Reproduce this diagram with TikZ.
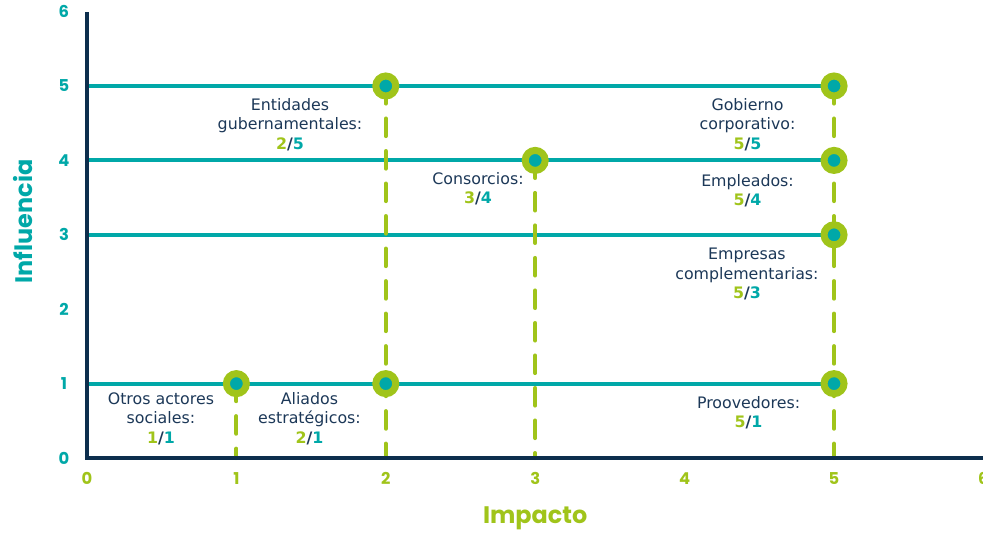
\documentclass[tikz,border=0pt]{standalone}
\usepackage{fontspec}
\setmainfont{DejaVu Sans}
\newfontfamily\ejefont{Poppins}
\usepackage{tikz}
\definecolor{turquesa}{RGB}{0,168,168}
\definecolor{verde}{RGB}{160,196,26}
\definecolor{marino}{RGB}{13,46,77}
\definecolor{texto}{RGB}{28,56,88}
\tikzset{
  >=latex,
}
\tikzstyle{eje}=[line width=2.6pt,marino]
\tikzstyle{nivel}=[line width=2.3pt,turquesa]
\tikzstyle{guia}=[line width=2.3pt,verde,line cap=round,dash pattern=on 10pt off 8.5pt]
\tikzstyle{punto}=[circle,fill=turquesa,draw=verde,line width=0.14cm,minimum size=0.4cm,inner sep=0pt]
\tikzstyle{etiqueta}=[anchor=north,align=center,text=texto,inner sep=0pt,font=\fontsize{9}{11.1}\selectfont]
\tikzstyle{marcay}=[turquesa,font=\ejefont\bfseries\fontsize{9.3}{11}\selectfont]
\tikzstyle{marcax}=[verde,font=\ejefont\bfseries\fontsize{9.3}{11}\selectfont]
\tikzstyle{titulo}=[font=\ejefont\bfseries\fontsize{13.6}{16}\selectfont]
\newcommand{\valor}[2]{\textbf{\textcolor{verde}{#1}/\textcolor{turquesa}{#2}}}

\begin{document}
\begin{tikzpicture}[x=2.988cm,y=1.488cm]
    \useasboundingbox (-0.582,-1.035) rectangle (5.997,6.156);
    % puntos y pies sobre los ejes
    \coordinate (o) at (0,0);
    \coordinate (ytop) at (0,5.99);
    \coordinate (xend) at (6.1,0);
    \foreach \k in {1,3,4,5} \coordinate (y\k) at (0,\k);
    \foreach \k in {1,2,3,5} \coordinate (x\k) at (\k,0);
    \foreach \a/\b in {1/1,2/1,2/5,3/4,5/1,5/3,5/4,5/5}
      \coordinate (p\a\b) at (\a,\b);
    % niveles de influencia
    \draw[nivel] (y5)--(p55);
    \draw[nivel] (y4)--(p54);
    \draw[nivel] (y3)--(p53);
    \draw[nivel] (y1)--(p51);
    % guias de impacto
    \draw[guia] (p11)--(x1);
    \draw[guia] (p25)--(x2);
    \draw[guia] (p34)--(x3);
    \draw[guia] (p55)--(x5);
    % ejes
    \draw[eje] (ytop)--(o)--(xend);
    \foreach \k in {0,...,6} {
      \node[marcay] (ly\k) at (-0.154,\k) {\k};
      \node[marcax] (lx\k) at (\k,-0.27) {\k};
    }
    \node[titulo,verde] (impacto) at (3,-0.813) {Impacto};
    \node[titulo,turquesa,rotate=90] (influencia) at (-0.428,3.18) {Influencia};
    % marcadores
    \foreach \a/\b in {1/1,2/1,2/5,3/4,5/1,5/3,5/4,5/5}
      \node[punto] (m\a\b) at (p\a\b) {};
    % etiquetas
    \node[etiqueta] (otros) at (0.495,0.887) {Otros actores\\sociales:\\\valor{1}{1}};
    \node[etiqueta] (aliados) at (1.489,0.887) {Aliados\\estratégicos:\\\valor{2}{1}};
    \node[etiqueta] (entidades) at (1.359,4.839) {Entidades\\gubernamentales:\\\valor{2}{5}};
    \node[etiqueta] (consorcios) at (2.617,3.844) {Consorcios:\\\valor{3}{4}};
    \node[etiqueta] (gobierno) at (4.421,4.839) {Gobierno\\corporativo:\\\valor{5}{5}};
    \node[etiqueta] (empleados) at (4.421,3.817) {Empleados:\\\valor{5}{4}};
    \node[etiqueta] (empresas) at (4.417,2.823) {Empresas\\complementarias:\\\valor{5}{3}};
    \node[etiqueta] (proovedores) at (4.428,0.833) {Proovedores:\\\valor{5}{1}};
  \end{tikzpicture}
\end{document}
